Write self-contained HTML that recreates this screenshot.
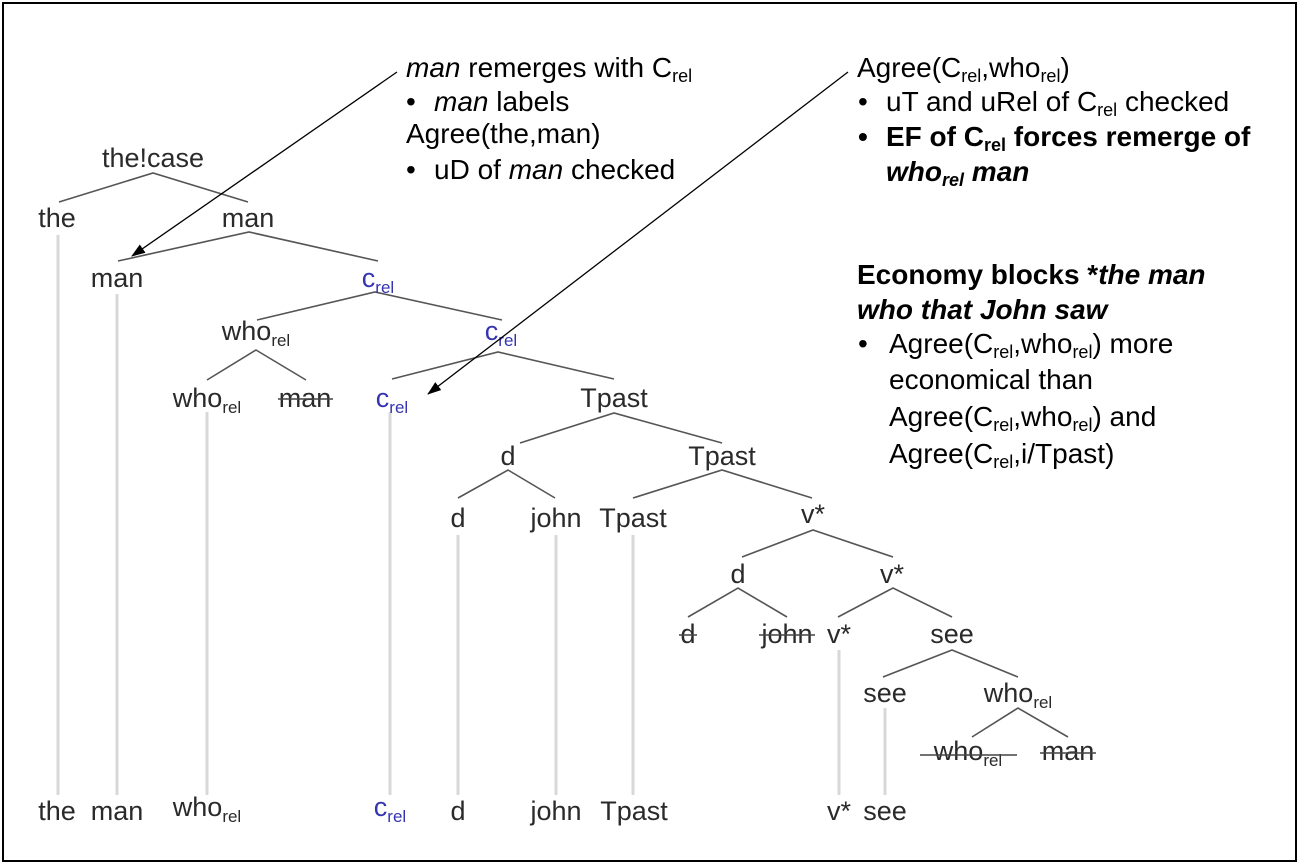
<!DOCTYPE html>
<html><head><meta charset="utf-8"><style>
html,body{margin:0;padding:0;background:#fff;}
svg{display:block;}
text{font-family:"Liberation Sans",Arial,sans-serif;}
.t{font-size:27px;fill:#2a2a2a;text-anchor:middle;}
.b{fill:#3535b0;}
.a{font-size:28px;fill:#000;}
.e{stroke:#555;stroke-width:1.6;fill:none;}
.v{stroke:#d8d8d8;stroke-width:3;}
.s{stroke:#444;stroke-width:1.5;}
</style></head><body>
<svg width="1300" height="866" viewBox="0 0 1300 866" xmlns="http://www.w3.org/2000/svg">
<defs><marker id="ar" markerWidth="14" markerHeight="10" refX="13" refY="5" orient="auto" markerUnits="userSpaceOnUse"><path d="M0,0 L14,5 L0,10 z" fill="#000"/></marker></defs>
<rect x="3" y="3" width="1293" height="858" fill="none" stroke="#000" stroke-width="2"/>

<g class="v">
<line x1="58" y1="235" x2="58" y2="795"/>
<line x1="117" y1="294" x2="117" y2="795"/>
<line x1="207" y1="412" x2="207" y2="795"/>
<line x1="390" y1="412" x2="390" y2="795"/>
<line x1="458" y1="535" x2="458" y2="795"/>
<line x1="556" y1="535" x2="556" y2="795"/>
<line x1="633" y1="535" x2="633" y2="795"/>
<line x1="839" y1="650" x2="839" y2="795"/>
<line x1="885" y1="708" x2="885" y2="795"/>
</g>

<g class="e">
<polyline points="59,202 153,173 248,202"/>
<polyline points="118,261 249,232 378,261"/>
<polyline points="257,320 375,292 502,320"/>
<polyline points="207,380 256,350 306,380"/>
<polyline points="392,379 498,352 614,379"/>
<polyline points="520,443 614,413 722,443"/>
<polyline points="458,498 508,470 555,498"/>
<polyline points="633,498 722,470 812,498"/>
<polyline points="742,557 813,530 893,557"/>
<polyline points="688,617 738,588 787,617"/>
<polyline points="838,617 893,588 952,617"/>
<polyline points="883,677 952,650 1018,677"/>
<polyline points="972,737 1018,708 1068,737"/>
</g>

<text class="t" x="153" y="167">the!case</text>
<text class="t" x="57" y="227">the</text>
<text class="t" x="248" y="227">man</text>
<text class="t" x="117" y="287">man</text>
<text class="t b" x="378" y="287">c<tspan font-size="17" dy="6">rel</tspan></text>
<text class="t" x="256" y="340">who<tspan font-size="17" dy="6">rel</tspan></text>
<text class="t b" x="501" y="340">c<tspan font-size="17" dy="6">rel</tspan></text>
<text class="t" x="207" y="407">who<tspan font-size="17" dy="6">rel</tspan></text>
<text class="t" x="305" y="407">man</text>
<line class="s" x1="278" y1="399" x2="333" y2="399"/>
<text class="t b" x="392" y="407">c<tspan font-size="17" dy="6">rel</tspan></text>
<text class="t" x="614" y="407">Tpast</text>
<text class="t" x="508" y="465">d</text>
<text class="t" x="722" y="465">Tpast</text>
<text class="t" x="458" y="527">d</text>
<text class="t" x="556" y="527">john</text>
<text class="t" x="633" y="527">Tpast</text>
<text class="t" x="813" y="523">v*</text>
<text class="t" x="738" y="583">d</text>
<text class="t" x="892" y="583">v*</text>
<text class="t" x="688" y="643">d</text>
<line class="s" x1="679" y1="635" x2="697" y2="635"/>
<text class="t" x="787" y="643">john</text>
<line class="s" x1="759" y1="635" x2="815" y2="635"/>
<text class="t" x="839" y="643">v*</text>
<text class="t" x="952" y="643">see</text>
<text class="t" x="885" y="702">see</text>
<text class="t" x="1018" y="702">who<tspan font-size="17" dy="6">rel</tspan></text>
<text class="t" x="968" y="760">who<tspan font-size="17" dy="6">rel</tspan></text>
<line class="s" x1="920" y1="755" x2="1017" y2="755"/>
<text class="t" x="1068" y="760">man</text>
<line class="s" x1="1040" y1="753" x2="1096" y2="753"/>

<text class="t" x="57" y="820">the</text>
<text class="t" x="117" y="820">man</text>
<text class="t" x="207" y="816">who<tspan font-size="17" dy="6">rel</tspan></text>
<text class="t b" x="390" y="816">c<tspan font-size="17" dy="6">rel</tspan></text>
<text class="t" x="458" y="820">d</text>
<text class="t" x="556" y="820">john</text>
<text class="t" x="634" y="820">Tpast</text>
<text class="t" x="839" y="820">v*</text>
<text class="t" x="885" y="820">see</text>

<line x1="397" y1="72" x2="132" y2="256" stroke="#000" stroke-width="1.3" marker-end="url(#ar)"/>
<line x1="848" y1="72" x2="428" y2="394" stroke="#000" stroke-width="1.3" marker-end="url(#ar)"/>

<text class="a" x="406" y="77"><tspan font-style="italic">man</tspan> remerges with C<tspan font-size="18" dy="5">rel</tspan></text>
<text class="a" x="406" y="111">•<tspan x="434" font-style="italic">man</tspan> labels</text>
<text class="a" x="406" y="143">Agree(the,man)</text>
<text class="a" x="406" y="179">•<tspan x="434">uD of </tspan><tspan font-style="italic">man</tspan> checked</text>

<text class="a" x="857" y="77">Agree(C<tspan font-size="18" dy="5">rel</tspan><tspan dy="-5">,who</tspan><tspan font-size="18" dy="5">rel</tspan><tspan dy="-5">)</tspan></text>
<text class="a" x="858" y="111">•<tspan x="886">uT and uRel of C</tspan><tspan font-size="18" dy="5">rel</tspan><tspan dy="-5"> checked</tspan></text>
<text class="a" x="858" y="146" font-weight="bold">•<tspan x="886">EF of C</tspan><tspan font-size="18" dy="5">rel</tspan><tspan dy="-5"> forces remerge of</tspan></text>
<text class="a" x="886" y="181" font-weight="bold" font-style="italic">who<tspan font-size="18" dy="5">rel</tspan><tspan dy="-5"> man</tspan></text>

<text class="a" x="857" y="284" font-weight="bold">Economy blocks *<tspan font-style="italic">the man</tspan></text>
<text class="a" x="857" y="319" font-weight="bold" font-style="italic">who that John saw</text>
<text class="a" x="858" y="353">•<tspan x="889">Agree(C</tspan><tspan font-size="18" dy="5">rel</tspan><tspan dy="-5">,who</tspan><tspan font-size="18" dy="5">rel</tspan><tspan dy="-5">) more</tspan></text>
<text class="a" x="889" y="389">economical than</text>
<text class="a" x="889" y="426">Agree(C<tspan font-size="18" dy="5">rel</tspan><tspan dy="-5">,who</tspan><tspan font-size="18" dy="5">rel</tspan><tspan dy="-5">) and</tspan></text>
<text class="a" x="889" y="463">Agree(C<tspan font-size="18" dy="5">rel</tspan><tspan dy="-5">,i/Tpast)</tspan></text>
</svg>
</body></html>
